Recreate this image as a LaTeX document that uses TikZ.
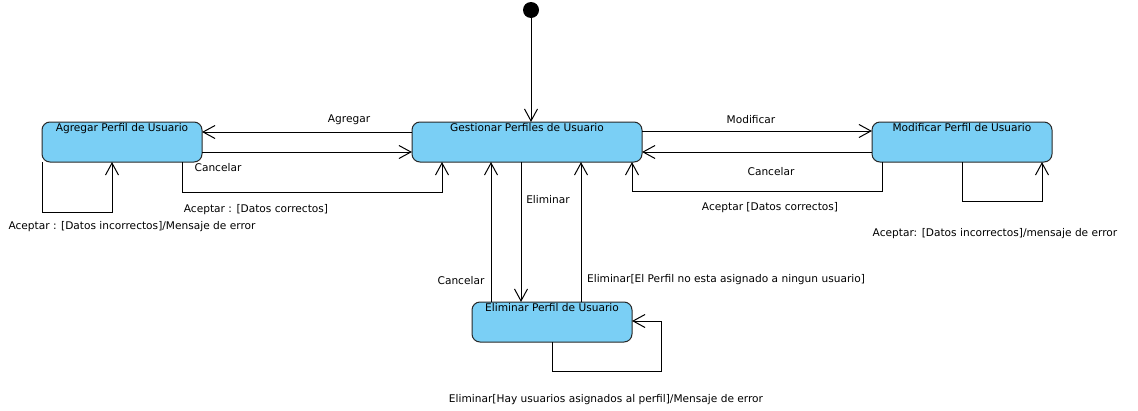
\documentclass[tikz,border=0pt]{standalone}
\usepackage{fontspec}
\setmainfont{DejaVu Sans}
\usetikzlibrary{arrows.meta}
\definecolor{stfill}{RGB}{122,207,245}
\definecolor{stdraw}{RGB}{40,40,40}
\begin{document}
\begin{tikzpicture}[x=1pt,y=-1pt,
  state/.style={draw=stdraw,fill=stfill,rounded corners=8pt,line width=1pt},
  stitle/.style={font=\fontsize{10.6}{12}\selectfont,anchor=north,inner sep=0pt},
  lbl/.style={font=\fontsize{10.6}{12}\selectfont,inner sep=0pt},
  conn/.style={line width=1pt,-{Straight Barb[length=12pt,width=13pt,line width=1pt]}}]
\useasboundingbox (0,0) rectangle (1138,410);
% states
\path[state] (412,122) rectangle (642,162);
\path[state] (42,122) rectangle (202,162);
\path[state] (872,122) rectangle (1052,162);
\path[state] (472,302) rectangle (632,342);
\node[stitle] (gt) at (527,123.5) {Gestionar Perfiles de Usuario};
\node[stitle] (at) at (122,123.5) {Agregar Perfil de Usuario};
\node[stitle] (mt) at (962,123.5) {Modificar Perfil de Usuario};
\node[stitle] (et) at (552,303.5) {Eliminar Perfil de Usuario};
% initial
\node[circle,fill=black,minimum size=16pt,inner sep=0pt] (init) at (531,10) {};
\coordinate (gTop) at (531,122);
\draw[conn] (init) -- (gTop);
% Agregar
\coordinate (g1) at (412,132); \coordinate (a1) at (202,132);
\draw[conn] (g1) -- (a1);
\node[lbl] (lAgr) at (349,120) {Agregar};
\coordinate (a2) at (202,152); \coordinate (g2) at (412,152);
\draw[conn] (a2) -- (g2);
\node[lbl] (lCan1) at (218,168) {Cancelar};
\coordinate (a3) at (182,162); \coordinate (g3) at (442,162);
\draw[conn] (a3) -- (182,192) -- (442,192) -- (g3);
\node[lbl] (lAc1) at (256,210) {Aceptar : [Datos correctos]};
\coordinate (a4) at (42,162); \coordinate (a5) at (112,162);
\draw[conn] (a4) -- (42,212) -- (112,212) -- (a5);
\node[lbl] (lAc2) at (132,227) {Aceptar : [Datos incorrectos]/Mensaje de error};
% Modificar
\coordinate (g4) at (642,131); \coordinate (m1) at (872,131);
\draw[conn] (g4) -- (m1);
\node[lbl] (lMod) at (751,120) {Modificar};
\coordinate (m2) at (872,152); \coordinate (g5) at (642,152);
\draw[conn] (m2) -- (g5);
\node[lbl] (lCan2) at (771,172) {Cancelar};
\coordinate (m3) at (882,162); \coordinate (g6) at (632,162);
\draw[conn] (m3) -- (882,191) -- (632,191) -- (g6);
\node[lbl] (lAc3) at (770,208) {Aceptar [Datos correctos]};
\coordinate (m4) at (962,162); \coordinate (m5) at (1042,162);
\draw[conn] (m4) -- (962,201) -- (1042,201) -- (m5);
\node[lbl] (lAc4) at (995,234) {Aceptar: [Datos incorrectos]/mensaje de error};
% Eliminar
\coordinate (g7) at (521,162); \coordinate (e1) at (521,302);
\draw[conn] (g7) -- (e1);
\node[lbl] (lEl1) at (548,200) {Eliminar};
\coordinate (e2) at (491,302); \coordinate (g8) at (491,162);
\draw[conn] (e2) -- (g8);
\node[lbl] (lCan3) at (461,281) {Cancelar};
\coordinate (e3) at (581,302); \coordinate (g9) at (581,162);
\draw[conn] (e3) -- (g9);
\node[lbl] (lEl2) at (726,280) {Eliminar[El Perfil no esta asignado a ningun usuario]};
\coordinate (e4) at (552,342); \coordinate (e5) at (632,321);
\draw[conn] (e4) -- (552,371) -- (661,371) -- (661,321) -- (e5);
\node[lbl] (lEl3) at (606,400) {Eliminar[Hay usuarios asignados al perfil]/Mensaje de error};
\end{tikzpicture}
\end{document}
